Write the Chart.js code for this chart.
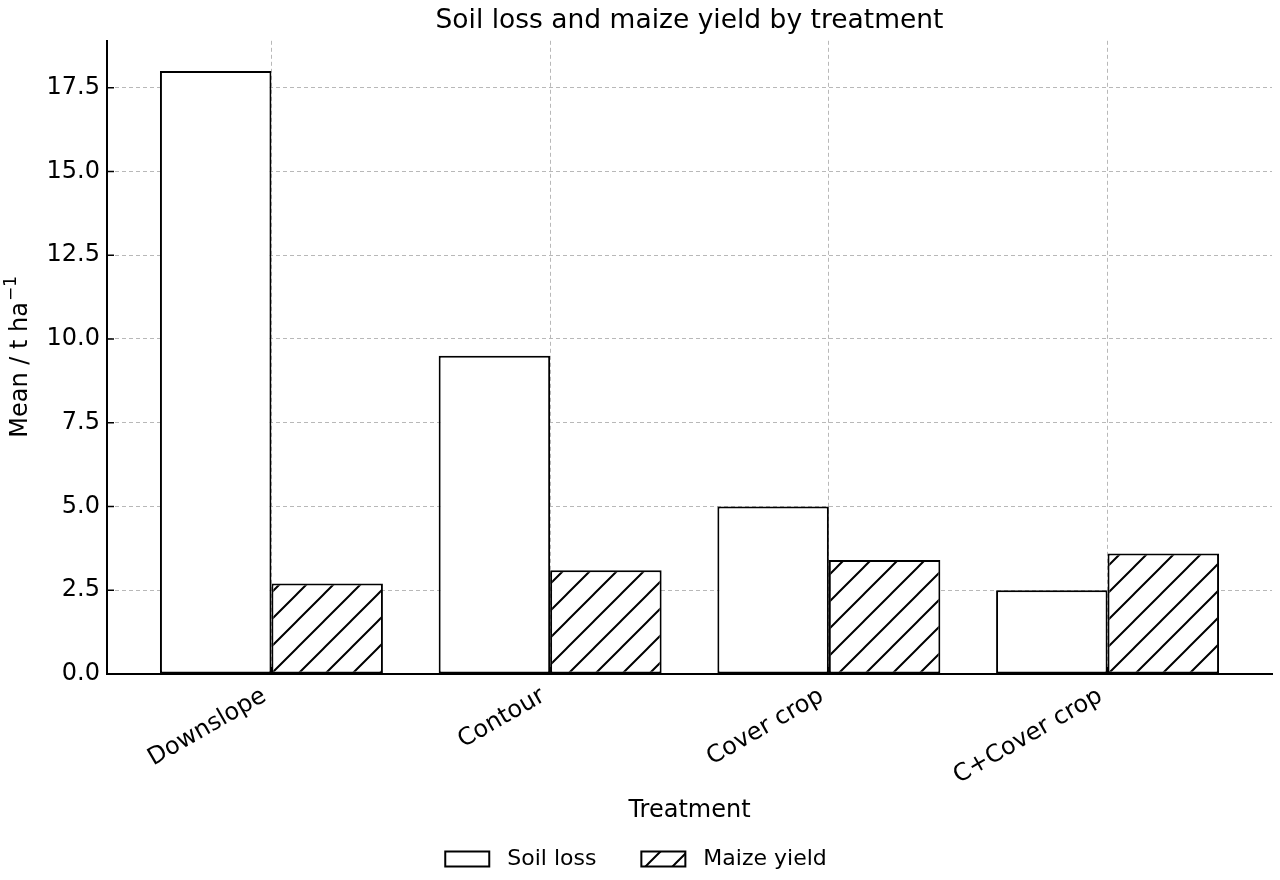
<!DOCTYPE html>
<html>
<head>
<meta charset="utf-8">
<script src="https://cdn.jsdelivr.net/npm/chart.js@4.4.0/dist/chart.umd.min.js"></script>
<style>
  html, body { margin: 0; padding: 0; background: #fff; }
  #wrap { width: 1280px; height: 880px; }
</style>
</head>
<body>
<div id="wrap"><canvas id="chart"></canvas></div>
<script>
// data
const treatments = ['Downslope', 'Contour', 'Cover crop', 'C+Cover crop'];
const soilLoss = [18.0, 9.5, 5.0, 2.5];
const maizeYield = [2.7, 3.1, 3.4, 3.6];
const yTicks = [0, 2.5, 5, 7.5, 10, 12.5, 15, 17.5];

Chart.defaults.font.family = 'DejaVu Sans';
Chart.defaults.color = '#000';

// "/" hatch like matplotlib
function makeHatch() {
    const s = 27;
    const c = document.createElement('canvas');
    c.width = s;
    c.height = s;
    const g = c.getContext('2d');
    g.fillStyle = '#fff';
    g.fillRect(0, 0, s, s);
    g.strokeStyle = '#000';
    g.lineWidth = 2;
    g.beginPath();
    g.moveTo(-2, s + 2); g.lineTo(s + 2, -2);
    g.moveTo(-2, 2); g.lineTo(2, -2);
    g.moveTo(s - 2, s + 2); g.lineTo(s + 2, s - 2);
    g.stroke();
    return g.createPattern(c, 'repeat');
}

// ticks pointing into the plot
const inwardTicks = {
    id: 'inwardTicks',
    afterDraw(chart) {
        const { ctx, chartArea, scales } = chart;
        ctx.save();
        ctx.strokeStyle = '#000';
        ctx.lineWidth = 1.5;
        ctx.beginPath();
        scales.y.ticks.forEach(t => {
            const y = scales.y.getPixelForValue(t.value);
            ctx.moveTo(chartArea.left, y);
            ctx.lineTo(chartArea.left + 7, y);
        });
        scales.x.ticks.forEach(t => {
            const x = scales.x.getPixelForValue(t.value);
            ctx.moveTo(x, chartArea.bottom);
            ctx.lineTo(x, chartArea.bottom - 7);
        });
        ctx.stroke();
        ctx.restore();
    }
};

// y title with a real superscript
const yTitle = {
    id: 'yTitle',
    afterDraw(chart) {
        const { ctx, chartArea } = chart;
        const main = 'Mean / t ha';
        const sup = '\u22121';
        ctx.save();
        ctx.translate(21, (chartArea.top + chartArea.bottom) / 2);
        ctx.rotate(-Math.PI / 2);
        ctx.fillStyle = '#000';
        ctx.textBaseline = 'middle';
        ctx.font = '24px "DejaVu Sans"';
        const w1 = ctx.measureText(main).width;
        ctx.font = '17px "DejaVu Sans"';
        const w2 = ctx.measureText(sup).width;
        const x0 = -(w1 + w2) / 2;
        ctx.font = '24px "DejaVu Sans"';
        ctx.fillText(main, x0, 0);
        ctx.font = '17px "DejaVu Sans"';
        ctx.fillText(sup, x0 + w1 + 1, -9);
        ctx.restore();
    }
};

const gridStyle = {
    color: '#b8b8b8',
    lineWidth: 1,
    drawTicks: false,
    offset: false
};

const ctx = document.getElementById('chart').getContext('2d');
new Chart(ctx, {
    type: 'bar',
    data: {
        datasets: [{
            label: 'Soil loss',
            data: soilLoss.map((v, i) => ({ x: i, y: v })),
            backgroundColor: '#fff',
            borderColor: '#000',
            borderWidth: 2,
            borderSkipped: false
        }, {
            label: 'Maize yield',
            data: maizeYield.map((v, i) => ({ x: i, y: v })),
            backgroundColor: makeHatch(),
            borderColor: '#000',
            borderWidth: 2,
            borderSkipped: false
        }]
    },
    options: {
        responsive: true,
        maintainAspectRatio: false,
        animation: false,
        devicePixelRatio: 1,
        categoryPercentage: 0.8,
        barPercentage: 1.0,
        layout: { padding: { left: 0, right: 8, top: 0, bottom: 0 } },
        plugins: {
            title: {
                display: true,
                text: 'Soil loss and maize yield by treatment',
                fullSize: false,
                font: { size: 26.5, weight: 'normal' },
                padding: { top: 5, bottom: 4 }
            },
            legend: {
                position: 'bottom',
                labels: {
                    boxWidth: 44,
                    boxHeight: 15,
                    padding: 10,
                    font: { size: 22 },
                    generateLabels(chart) {
                        const items = Chart.defaults.plugins.legend.labels.generateLabels(chart);
                        // spacing like the reference legend
                        items.forEach((it, i) => {
                            it.text = ' ' + it.text + (i < items.length - 1 ? '     ' : '');
                        });
                        return items;
                    }
                }
            },
            tooltip: { enabled: false }
        },
        scales: {
            x: {
                type: 'linear',
                offset: false,
                min: -0.59,
                max: 3.59,
                afterBuildTicks: scale => {
                    scale.ticks = treatments.map((_, i) => ({ value: i }));
                },
                afterFit: scale => { scale.height = 164; },
                grid: gridStyle,
                border: { display: true, color: '#000', width: 2, dash: [4, 3] },
                ticks: {
                    autoSkip: false,
                    minRotation: 30,
                    maxRotation: 30,
                    padding: 8,
                    labelOffset: -7,
                    font: { size: 24 },
                    callback: v => treatments[v]
                },
                title: {
                    display: true,
                    text: 'Treatment',
                    font: { size: 24 },
                    padding: { top: 10, bottom: 13 }
                }
            },
            y: {
                min: 0,
                max: 18.9,
                afterBuildTicks: scale => {
                    scale.ticks = yTicks.map(v => ({ value: v }));
                },
                afterFit: scale => { scale.width = 107; },
                grid: gridStyle,
                border: { display: true, color: '#000', width: 2, dash: [4, 3] },
                ticks: {
                    padding: 7,
                    font: { size: 24 },
                    callback: v => v.toFixed(1)
                }
            }
        }
    },
    plugins: [inwardTicks, yTitle]
});
</script>
</body>
</html>
